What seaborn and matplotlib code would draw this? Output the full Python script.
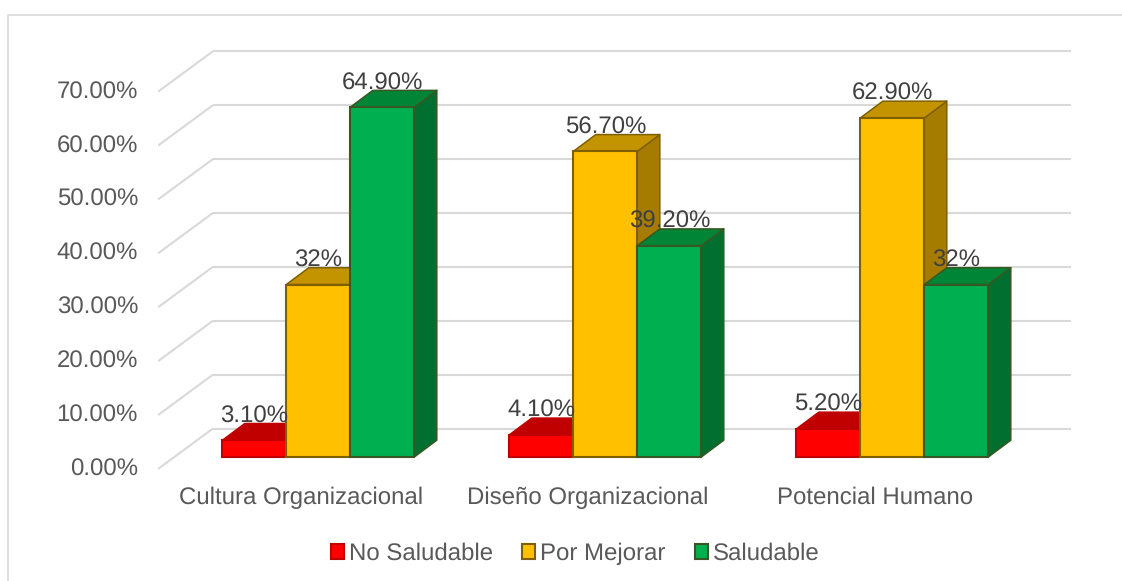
import matplotlib
matplotlib.use("Agg")
import matplotlib.pyplot as plt
from matplotlib.patches import Polygon, Rectangle
from matplotlib.transforms import ScaledTranslation
import pandas as pd
import seaborn as sns

categories = ["Cultura Organizacional", "Diseño Organizacional", "Potencial Humano"]
series_names = ["No Saludable", "Por Mejorar", "Saludable"]
no_saludable = [3.1, 4.1, 5.2]
por_mejorar = [32.0, 56.7, 62.9]
saludable = [64.9, 39.2, 32.0]
no_saludable_labels = ["3.10%", "4.10%", "5.20%"]
por_mejorar_labels = ["32%", "56.70%", "62.90%"]
saludable_labels = ["64.90%", "39.20%", "32%"]
y_ticks = [0, 10, 20, 30, 40, 50, 60, 70]
y_tick_labels = ["0.00%", "10.00%", "20.00%", "30.00%", "40.00%", "50.00%", "60.00%", "70.00%"]

W, H, DPI = 1122, 581, 100
PX_PER_PCT = 5.39
PX_PER_CAT = 287.0
X0_PX, Y0_PX = 318.3, 457.0          # first group centre, bar base line
AX_L, AX_R, AX_T, AX_B = 158, 1072, 40, 470
BAR_DEPTH = (22.5, 16.8)             # oblique offset of a bar's back face, px
WALL_DEPTH = (55.0, 28.5)            # back wall relative to bar base line, px

FRONT = ["#FF0000", "#FFC000", "#00B050"]
TOP = ["#C00000", "#C49300", "#008537"]
SIDE = ["#A80000", "#A67C00", "#006F2F"]
EDGE = ["#C00000", "#7F6000", "#385723"]
GRID = "#D9D9D9"
TEXT = "#595959"
LABEL = "#404040"
FONT_SIZE = 17.3

sns.set_theme(style="white")
plt.rcParams["font.family"] = ["Liberation Sans", "DejaVu Sans"]
plt.rcParams["text.hinting"] = "no_hinting"
plt.rcParams["text.hinting_factor"] = 1

long_df = pd.DataFrame({
    "categoria": categories * 3,
    "serie": [s for s in series_names for _ in categories],
    "valor": no_saludable + por_mejorar + saludable,
})

fig = plt.figure(figsize=(W / DPI, H / DPI), dpi=DPI, facecolor="white")
ax = fig.add_axes([AX_L / W, 1 - AX_B / H, (AX_R - AX_L) / W, (AX_B - AX_T) / H])

sns.barplot(
    data=long_df, x="categoria", y="valor", hue="serie", order=categories,
    hue_order=series_names, palette=FRONT, saturation=1, width=0.669, gap=0,
    errorbar=None, ax=ax, linewidth=1.5,
)

ax.set_xlim((AX_L - X0_PX) / PX_PER_CAT, (AX_R - X0_PX) / PX_PER_CAT)
ax.set_ylim((Y0_PX - AX_B) / PX_PER_PCT, (Y0_PX - AX_T) / PX_PER_PCT)
ax.set_xlabel("")
ax.set_ylabel("")
ax.patch.set_alpha(0)
for spine in ax.spines.values():
    spine.set_visible(False)

depth_x = BAR_DEPTH[0] / PX_PER_CAT
depth_y = BAR_DEPTH[1] / PX_PER_PCT
wall_x = WALL_DEPTH[0] / PX_PER_CAT
wall_y = WALL_DEPTH[1] / PX_PER_PCT
x_left, x_right = ax.get_xlim()

# Back wall lines and the diagonals of the side wall
for v in y_ticks:
    yw = v + wall_y
    ax.plot([x_left + wall_x, (1071 - X0_PX) / PX_PER_CAT], [yw, yw],
            color=GRID, lw=1.5, zorder=1, solid_capstyle="butt")
    ax.plot([x_left, x_left + wall_x], [v + (Y0_PX - 469) / PX_PER_PCT, yw],
            color=GRID, lw=1.5, zorder=1, solid_capstyle="butt")

# Oblique faces built on the geometry of each seaborn bar
series_labels = [no_saludable_labels, por_mejorar_labels, saludable_labels]
for i, container in enumerate(ax.containers):
    z = 3 + i * 3
    for bar, text in zip(container, series_labels[i]):
        x0, w, h = bar.get_x(), bar.get_width(), bar.get_height()
        x1 = x0 + w
        side = [(x1, 0), (x1 + depth_x, depth_y), (x1 + depth_x, h + depth_y), (x1, h)]
        top = [(x0, h), (x0 + depth_x, h + depth_y), (x1 + depth_x, h + depth_y), (x1, h)]
        ax.add_patch(Polygon(side, closed=True, facecolor=SIDE[i], edgecolor=EDGE[i],
                             lw=1.1, zorder=z, joinstyle="round"))
        ax.add_patch(Polygon(top, closed=True, facecolor=TOP[i], edgecolor=EDGE[i],
                             lw=1.1, zorder=z + 1, joinstyle="round"))
        bar.set_edgecolor(EDGE[i])
        bar.set_zorder(z + 2)
        ax.text(x0 + w / 2, h + 24 / PX_PER_PCT, text, ha="center", va="center",
                color=LABEL, fontsize=FONT_SIZE, zorder=30)

# Value axis labels sit on the front edge of the side wall
ax.set_yticks(y_ticks)
ax.set_yticklabels(y_tick_labels, fontsize=FONT_SIZE, color=TEXT)
ax.tick_params(axis="y", length=0, pad=14.4)
shift_y = ScaledTranslation(0, -10 / DPI, fig.dpi_scale_trans)
for lab in ax.get_yticklabels():
    lab.set_transform(lab.get_transform() + shift_y)

ax.set_xticks(range(len(categories)))
ax.set_xticklabels(categories, fontsize=FONT_SIZE, color=TEXT)
ax.tick_params(axis="x", length=0, pad=12)
shift_x = ScaledTranslation(-17.5 / DPI, 0, fig.dpi_scale_trans)
for lab in ax.get_xticklabels():
    lab.set_transform(lab.get_transform() + shift_x)

# Legend below the plot
handles, labels = ax.get_legend_handles_labels()
for handle, edge in zip(handles, EDGE):
    handle.set_edgecolor(edge)
    handle.set_linewidth(1.5)
ax.legend(
    handles, labels, loc="center", bbox_to_anchor=(575 / W, 1 - 554 / H),
    bbox_transform=fig.transFigure, ncol=3, frameon=False, fontsize=FONT_SIZE,
    handlelength=0.55, handleheight=0.58, handletextpad=0.2, columnspacing=1.22,
    labelcolor=TEXT,
)

# Chart frame
fig.add_artist(Rectangle((7.5 / W, -0.02), (W + 20) / W, 1 - 14.5 / H + 0.02,
                         transform=fig.transFigure, facecolor="none",
                         edgecolor=GRID, lw=1.2))

fig.savefig("out.png", dpi=DPI, facecolor="white")
